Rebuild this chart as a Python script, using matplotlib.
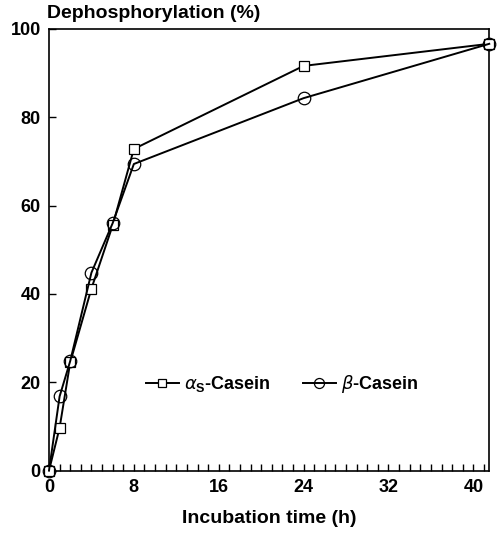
import matplotlib
matplotlib.use('Agg')
import matplotlib.pyplot as plt
from matplotlib.ticker import MultipleLocator

# incubation time (h) and dephosphorylation (%)
time_alpha = [0, 1, 2, 4, 6, 8, 24, 41.5]
alpha_casein = [0, 9.7, 24.5, 41.2, 55.5, 72.8, 91.6, 96.6]
time_beta = [0, 1, 2, 4, 6, 8, 24, 41.5]
beta_casein = [0, 16.8, 24.8, 44.8, 56.0, 69.4, 84.3, 96.6]

x_ticks = [0, 8, 16, 24, 32, 40]
y_ticks = [0, 20, 40, 60, 80, 100]


def main():
    plt.rcParams['font.family'] = ['Liberation Sans', 'DejaVu Sans']
    plt.rcParams['font.weight'] = 'bold'
    plt.rcParams['mathtext.fontset'] = 'custom'
    plt.rcParams['mathtext.it'] = 'DejaVu Sans:italic:normal'
    plt.rcParams['mathtext.rm'] = 'Liberation Sans:bold'

    fig = plt.figure(figsize=(5.02, 5.33), dpi=100)
    ax = fig.add_axes([0.0976, 0.117, 0.877, 0.829])

    ax.plot(time_alpha, alpha_casein, color='black', lw=1.4, marker='s',
            markersize=7.5, markerfacecolor='white', markeredgewidth=0.9,
            clip_on=False, zorder=3, label=r'$\alpha_{\rm S}$-Casein')
    ax.plot(time_beta, beta_casein, color='black', lw=1.4, marker='o',
            markersize=9, markerfacecolor='none', markeredgewidth=0.9,
            clip_on=False, zorder=3, label=r'$\beta$-Casein')

    ax.set_xlim(0, 41.5)
    ax.set_ylim(0, 100)
    ax.set_xticks(x_ticks)
    ax.set_yticks(y_ticks)
    ax.xaxis.set_minor_locator(MultipleLocator(1))
    ax.tick_params(axis='both', which='both', direction='in', labelsize=13,
                   width=1.0, length=5, pad=6)
    ax.tick_params(axis='x', which='minor', length=5)
    for lab in ax.get_xticklabels() + ax.get_yticklabels():
        lab.set_fontweight('bold')
    for sp in ax.spines.values():
        sp.set_linewidth(1.2)

    ax.set_xlabel('Incubation time (h)', fontsize=14, fontweight='bold', labelpad=10)
    fig.text(0.094, 0.975, 'Dephosphorylation (%)', fontsize=14, fontweight='bold',
             ha='left', va='center')

    leg = ax.legend(loc='center', bbox_to_anchor=(0.53, 0.195), ncol=2, frameon=False,
                    fontsize=13, handlelength=1.8, handletextpad=0.3, columnspacing=1.8,
                    markerscale=0.8)
    for t in leg.get_texts():
        t.set_fontweight('bold')

    fig.savefig('out.png', dpi=100)
    plt.close(fig)


if __name__ == '__main__':
    main()
